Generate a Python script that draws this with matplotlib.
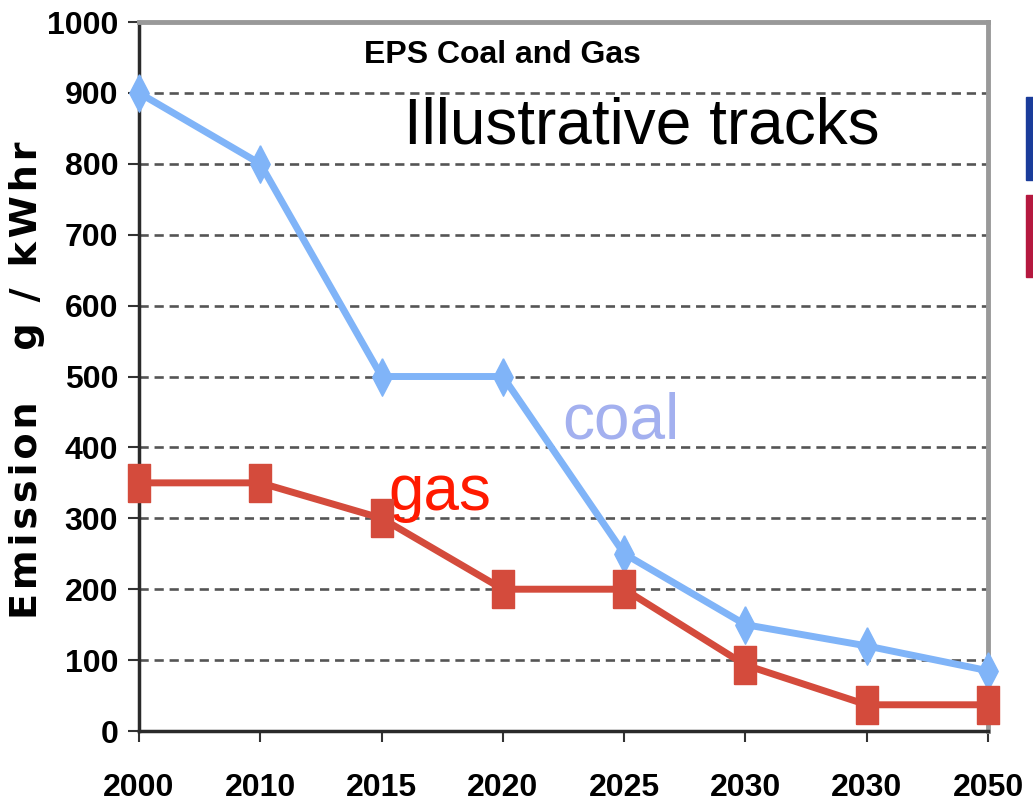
import matplotlib.pyplot as plt
from matplotlib.patches import Rectangle

years = ['2000', '2010', '2015', '2020', '2025', '2030', '2030', '2050']
coal = [900, 800, 500, 500, 250, 150, 120, 85]
gas = [350, 350, 300, 200, 200, 93, 37, 37]

plt.rcParams['font.family'] = ['Liberation Sans', 'DejaVu Sans']

# markers in the original are stretched vertically
tall_diamond = [(0, 1), (0.52, 0), (0, -1), (-0.52, 0), (0, 1)]
tall_square = [(-0.6, -1), (0.6, -1), (0.6, 1), (-0.6, 1), (-0.6, -1)]

fig = plt.figure(figsize=(10.33, 8.09), dpi=100)
ax = fig.add_axes([0.1346, 0.0964, 0.8219, 0.8764])

x = list(range(len(years)))
ax.plot(x, coal, color='#80b4f8', lw=5, marker=tall_diamond, markersize=27,
        zorder=3, clip_on=False)
ax.plot(x, gas, color='#d44b3c', lw=5, marker=tall_square, markersize=27,
        zorder=4, clip_on=False)

ax.set_xlim(0, len(years) - 1)
ax.set_ylim(0, 1000)
ax.set_xticks(x)
ax.set_xticklabels(years)
ax.set_yticks(range(0, 1001, 100))

ax.yaxis.grid(True, linestyle=(0, (3.5, 2.2)), color='#555555', lw=1.9)
ax.set_axisbelow(True)

for s in ['left', 'bottom']:
    ax.spines[s].set_color('#2a2a2a')
    ax.spines[s].set_linewidth(2.5)
for s in ['top', 'right']:
    ax.spines[s].set_color('#999999')
    ax.spines[s].set_linewidth(3.5)

ax.tick_params(axis='both', direction='out', length=8, width=1.5, color='#333333',
               labelsize=23)
ax.tick_params(axis='x', pad=22)
ax.tick_params(axis='y', pad=7)
for lbl in ax.get_xticklabels() + ax.get_yticklabels():
    lbl.set_fontweight('bold')

# widely tracked label, as in the original
ylab = '\u200a'.join('Emission') + '\u2003 ' + '\u200a'.join('g / kWhr')
ax.set_ylabel(ylab, fontsize=27.5, fontweight='bold', family=['DejaVu Sans'])
ax.yaxis.set_label_coords(-0.1107, 0.495)

ax.text(0.4276, 0.942, 'EPS Coal and Gas', transform=ax.transAxes, ha='center',
        va='baseline', fontsize=23, fontweight='bold')
ax.text(0.592, 0.829, 'Illustrative tracks', transform=ax.transAxes, ha='center',
        va='baseline', fontsize=46)
ax.text(3.97, 413, 'coal', ha='center', va='baseline', fontsize=46, color='#a3b0ef')
ax.text(2.48, 312, 'gas', ha='center', va='baseline', fontsize=46, color='#ff1a00')

fig.patches.append(Rectangle((1026 / 1033, 1 - 180 / 809), 7 / 1033, 83 / 809,
                             transform=fig.transFigure, color='#1a3c9a'))
fig.patches.append(Rectangle((1026 / 1033, 1 - 277 / 809), 7 / 1033, 82 / 809,
                             transform=fig.transFigure, color='#b5183f'))

fig.savefig('out.png', dpi=100)
